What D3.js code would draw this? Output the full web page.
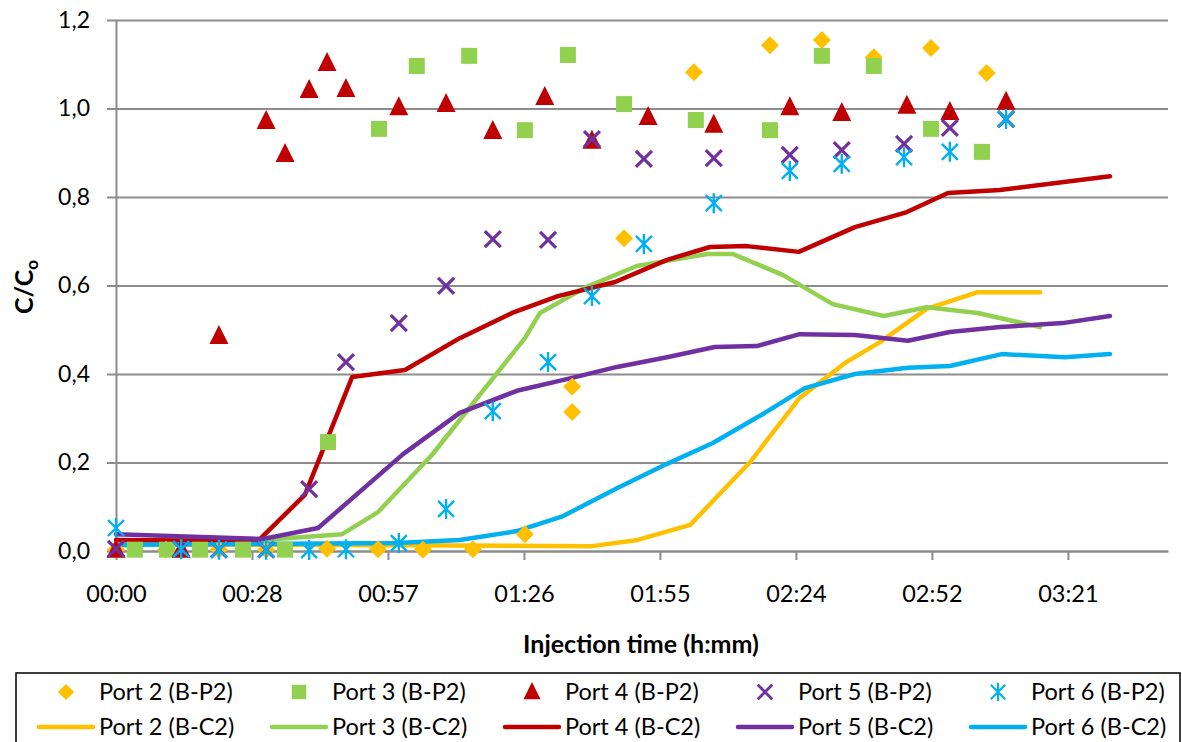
<!DOCTYPE html>
<html>
<head>
<meta charset="utf-8">
<script src="https://cdn.jsdelivr.net/npm/d3@7"></script>
<style>
body { margin: 0; background: #fff; }
text { font-family: Lato, "Open Sans", sans-serif; fill: #000; }
</style>
</head>
<body>
<script>
// breakthrough curves, ports 2-6 : measured points (B-P2) and model lines (B-C2)
// times are in minutes of injection

var p2Time = [0, 10.6, 21.8, 31.8, 44.7, 55.5, 65.0, 75.6, 86.6, 96.6, 96.6, 107.6, 122.4, 138.5, 149.5, 160.5, 172.6, 184.4];
var p2Val  = [0.003, 0.003, 0.003, 0.003, 0.005, 0.004, 0.003, 0.004, 0.038, 0.371, 0.314, 0.707, 1.082, 1.143, 1.155, 1.116, 1.137, 1.080];

var p3Time = [4.0, 10.8, 17.8, 26.9, 35.8, 44.9, 55.7, 63.7, 74.8, 86.6, 95.7, 107.6, 122.8, 138.5, 149.5, 160.5, 172.6, 183.4];
var p3Val  = [0.003, 0.003, 0.003, 0.003, 0.003, 0.246, 0.954, 1.096, 1.119, 0.951, 1.121, 1.010, 0.974, 0.951, 1.119, 1.096, 0.954, 0.902];

var p4Time = [0, 13.8, 21.8, 31.8, 35.8, 40.9, 44.7, 48.7, 59.9, 69.9, 79.8, 90.8, 100.8, 112.7, 126.6, 142.7, 153.7, 167.5, 176.6, 188.5];
var p4Val  = [0.003, 0.003, 0.486, 0.972, 0.897, 1.042, 1.103, 1.044, 1.003, 1.010, 0.949, 1.026, 0.927, 0.981, 0.963, 1.003, 0.990, 1.006, 0.992, 1.015];

var p5Time = [0, 13.8, 21.8, 31.8, 40.9, 48.7, 59.9, 69.9, 79.8, 91.5, 100.8, 111.8, 126.6, 142.7, 153.7, 166.9, 176.6, 188.5];
var p5Val  = [0.005, 0.005, 0.003, 0.003, 0.140, 0.427, 0.515, 0.599, 0.705, 0.703, 0.931, 0.886, 0.888, 0.895, 0.906, 0.920, 0.956, 0.976];

var p6Time = [0, 13.8, 21.8, 31.8, 40.9, 48.7, 59.9, 69.9, 79.8, 91.5, 100.8, 111.8, 126.6, 142.7, 153.7, 166.9, 176.6, 188.5];
var p6Val  = [0.052, 0.004, 0.003, 0.003, 0.002, 0.004, 0.018, 0.095, 0.316, 0.427, 0.576, 0.694, 0.786, 0.859, 0.875, 0.890, 0.902, 0.976];

var c2Time2 = [0, 30, 60, 100.8, 110.5, 121.6, 134.3, 144.8, 154.4, 161.8, 171.7, 182.5, 195.7];
var c2Val2  = [0.014, 0.014, 0.013, 0.011, 0.025, 0.059, 0.201, 0.346, 0.425, 0.472, 0.547, 0.585, 0.585];

var c2Time3 = [0, 31.1, 47.9, 55.5, 66.9, 86.6, 89.8, 99.7, 110.3, 125.2, 130.7, 141.2, 151.8, 162.6, 171.7, 182.5, 195.7];
var c2Val3  = [0.012, 0.025, 0.038, 0.088, 0.217, 0.481, 0.538, 0.597, 0.644, 0.671, 0.671, 0.624, 0.558, 0.531, 0.551, 0.538, 0.506];

var c2Time4 = [0, 15, 30.1, 40.0, 50.0, 61.2, 72.8, 83.9, 93.6, 105.7, 116.7, 125.8, 133.6, 144.6, 156.5, 167.5, 176.2, 187.2, 210.5];
var c2Val4  = [0.025, 0.024, 0.023, 0.127, 0.393, 0.409, 0.481, 0.538, 0.576, 0.608, 0.658, 0.687, 0.689, 0.676, 0.732, 0.766, 0.809, 0.816, 0.847];

var c2Time5 = [0, 31.1, 42.8, 60.8, 72.8, 84.9, 95.7, 106.1, 116.7, 126.8, 135.7, 144.8, 156.5, 167.7, 176.6, 187.2, 200.5, 210.5];
var c2Val5  = [0.038, 0.027, 0.052, 0.219, 0.312, 0.362, 0.389, 0.416, 0.438, 0.461, 0.463, 0.490, 0.488, 0.475, 0.495, 0.506, 0.515, 0.531];

var c2Time6 = [0, 30, 59.5, 72.8, 84.9, 94.7, 106.1, 116.7, 126.4, 137.4, 145.9, 156.5, 167.7, 176.6, 187.6, 201.0, 210.5];
var c2Val6  = [0.014, 0.016, 0.018, 0.025, 0.045, 0.079, 0.142, 0.197, 0.244, 0.312, 0.368, 0.400, 0.414, 0.418, 0.445, 0.438, 0.445];

var xTicks = [0, 28.8, 57.6, 86.4, 115.2, 144, 172.8, 201.6];
var xTickLabels = ["00:00", "00:28", "00:57", "01:26", "01:55", "02:24", "02:52", "03:21"];
var yTicks = [0, 0.2, 0.4, 0.6, 0.8, 1.0, 1.2];
var yTickLabels = ["0,0", "0,2", "0,4", "0,6", "0,8", "1,0", "1,2"];

var ports = ["Port 2", "Port 3", "Port 4", "Port 5", "Port 6"];
var colors = ["#FFC000", "#92D050", "#C00000", "#7030A0", "#00B0F0"];
var shapes = ["diamond", "square", "triangle", "cross", "star"];

var width = 1182;
var height = 742;

var graphics = d3.select("body").append("svg")
    .attr("width", width)
    .attr("height", height);

var plotLeft = 116, plotRight = 1168, plotTop = 20, plotBottom = 551;
var gridColor = "#8c8c8c";

var x = d3.scaleLinear().domain([0, 222.8]).range([plotLeft, plotRight]);
var y = d3.scaleLinear().domain([0, 1.2]).range([plotBottom, plotTop]);

// gridlines
var grid = graphics.append("g")
    .attr("transform", "translate(" + plotLeft + ",0)")
    .call(d3.axisLeft(y).tickValues(yTicks).tickSize(-(plotRight - plotLeft)).tickFormat(""));
grid.select(".domain").remove();
grid.selectAll("line").attr("stroke", gridColor).attr("stroke-width", 2);

// y axis
var yAxis = graphics.append("g")
    .attr("transform", "translate(" + plotLeft + ",0)")
    .call(d3.axisLeft(y).tickValues(yTicks).tickSize(9).tickSizeOuter(0).tickPadding(17)
        .tickFormat(function(d, i) { return yTickLabels[i]; }));
yAxis.selectAll("line").attr("stroke", gridColor).attr("stroke-width", 2);
yAxis.select(".domain").attr("stroke", gridColor).attr("stroke-width", 2);
yAxis.selectAll("text").style("font-size", "23px");

// x axis
var xAxis = graphics.append("g")
    .attr("transform", "translate(0," + plotBottom + ")")
    .call(d3.axisBottom(x).tickValues(xTicks).tickSize(9).tickSizeOuter(0).tickPadding(25)
        .tickFormat(function(d, i) { return xTickLabels[i]; }));
xAxis.selectAll("line").attr("stroke", gridColor).attr("stroke-width", 2);
xAxis.select(".domain").attr("stroke", gridColor).attr("stroke-width", 2);
xAxis.selectAll("text").style("font-size", "23.5px");

// axis titles
graphics.append("text")
    .attr("x", 641)
    .attr("y", 653)
    .attr("text-anchor", "middle")
    .style("font-size", "25px")
    .style("font-weight", "bold")
    .text("Injection time (h:mm)");

var yTitle = graphics.append("text")
    .attr("transform", "translate(33,287) rotate(-90)")
    .attr("text-anchor", "middle")
    .style("font-size", "25px")
    .style("font-weight", "bold");
yTitle.append("tspan").text("C/C");
yTitle.append("tspan").attr("dy", 5).style("font-size", "17px").text("o");

function shapePath(kind) {
    if (kind == "diamond") return "M0,-9L9,0L0,9L-9,0Z";
    if (kind == "square") return "M-8,-8H8V8H-8Z";
    if (kind == "triangle") return "M0,-11L9.5,8L-9.5,8Z";
    if (kind == "cross") return "M-8,-8L8,8M8,-8L-8,8";
    return "M-8,-8L8,8M8,-8L-8,8M0,-10V10";
}

function drawMarker(g, kind, color, cx, cy, k) {
    var p = g.append("path")
        .attr("d", shapePath(kind))
        .attr("transform", "translate(" + cx + "," + cy + ") scale(" + k + ")");
    if (kind == "cross" || kind == "star") {
        p.attr("fill", "none").attr("stroke", color).attr("stroke-width", kind == "cross" ? 3.2 : 2.4);
    } else {
        p.attr("fill", color);
    }
}

// model lines
var lineTimes = [c2Time2, c2Time3, c2Time4, c2Time5, c2Time6];
var lineVals = [c2Val2, c2Val3, c2Val4, c2Val5, c2Val6];
var line = d3.line()
    .x(function(d) { return x(d[0]); })
    .y(function(d) { return y(d[1]); });

for (var i = 0; i < 5; i++) {
    graphics.append("path")
        .datum(d3.zip(lineTimes[i], lineVals[i]))
        .attr("d", line)
        .attr("fill", "none")
        .attr("stroke", colors[i])
        .attr("stroke-width", 4.5)
        .attr("stroke-linejoin", "round")
        .attr("stroke-linecap", "round");
}

// measured points
var pointTimes = [p2Time, p3Time, p4Time, p5Time, p6Time];
var pointVals = [p2Val, p3Val, p4Val, p5Val, p6Val];
var pts = graphics.append("g");
for (var i = 0; i < 5; i++) {
    for (var j = 0; j < pointTimes[i].length; j++) {
        drawMarker(pts, shapes[i], colors[i], x(pointTimes[i][j]), y(pointVals[i][j]), 1);
    }
}

// legend
graphics.append("rect")
    .attr("x", 16)
    .attr("y", 673)
    .attr("width", 1164)
    .attr("height", 100)
    .attr("fill", "none")
    .attr("stroke", "#000")
    .attr("stroke-width", 1.5);

var legX0 = 99, legStep = 233;
for (var i = 0; i < 5; i++) {
    var tx = legX0 + legStep * i;
    drawMarker(graphics, shapes[i], colors[i], tx - 33, 692, 0.9);
    graphics.append("text")
        .attr("x", tx).attr("y", 700)
        .style("font-size", "23.5px")
        .text(ports[i] + " (B-P2)");

    graphics.append("line")
        .attr("x1", tx - 60).attr("x2", tx - 6)
        .attr("y1", 727).attr("y2", 727)
        .attr("stroke", colors[i])
        .attr("stroke-width", 4.5)
        .attr("stroke-linecap", "round");
    graphics.append("text")
        .attr("x", tx).attr("y", 735)
        .style("font-size", "23.5px")
        .text(ports[i] + " (B-C2)");
}
</script>
</body>
</html>
